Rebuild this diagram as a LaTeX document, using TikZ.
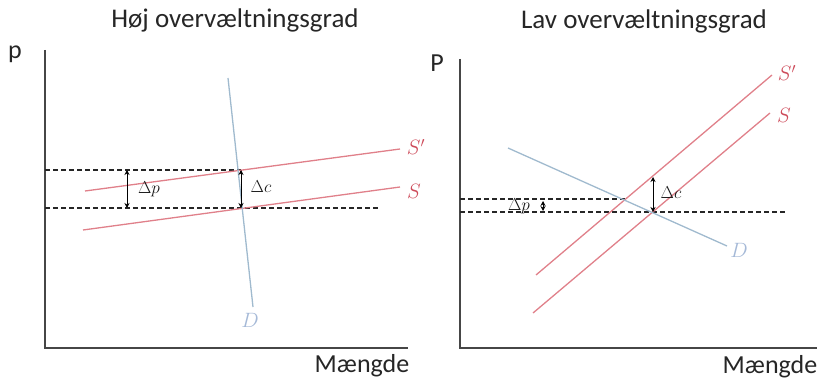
\documentclass[tikz,border=0pt]{standalone}
\usepackage{fontspec}
\setmainfont{Carlito}
\usetikzlibrary{arrows.meta}

\definecolor{supplyred}{RGB}{224,128,138}
\definecolor{supplylabel}{RGB}{205,75,90}
\definecolor{demandblue}{RGB}{160,186,206}
\definecolor{demandlabel}{RGB}{165,185,215}
\definecolor{axisgray}{RGB}{70,70,70}

\tikzstyle{axis}=[line width=2.4pt, axisgray]
\tikzstyle{supply}=[line width=1.3pt, supplyred]
\tikzstyle{demand}=[line width=1.3pt, demandblue]
\tikzstyle{price}=[line width=1.6pt, black!85, dash pattern=on 5pt off 3pt]
\tikzstyle{cost shift}=[line width=1pt, {Stealth[length=5pt,width=5pt]}-{Stealth[length=5pt,width=5pt]}]
\tikzstyle{heading}=[font=\fontsize{27}{31}\selectfont, text=black!85]
\tikzstyle{axis label}=[font=\fontsize{26}{30}\selectfont, text=black!85]
\tikzstyle{curve label}=[font=\fontsize{21}{24}\selectfont]
\tikzstyle{delta label}=[font=\fontsize{18}{21}\selectfont, text=black!90]

\begin{document}
\begin{tikzpicture}[x=1pt, y=-1pt]
	\useasboundingbox (0,0) rectangle (819,382);

	% Left panel: high pass-through
	\node[heading] (title high) at (235,20) {Høj overvæltningsgrad};
	\node[axis label] (p high) at (15,54) {p};
	\node[axis label] (q high) at (362,366) {Mængde};
	\draw[axis] (45,50) -- (45,348) -- (408,348);

	\draw[price] (45,170) -- (241,170);
	\draw[price] (45,208) -- (380,208);

	\draw[supply] (85,191) -- (400,149);
	\draw[supply] (83,230) -- (400,187);
	\draw[demand] (228,78) -- (253,307);

	\node[curve label, text=supplylabel] (s1 high) at (416,147) {$S'$};
	\node[curve label, text=supplylabel] (s0 high) at (414,191) {$S$};
	\node[curve label, text=demandlabel] (d high) at (250,320) {$D$};

	\draw[cost shift] (127,170) -- (127,208);
	\draw[cost shift] (241,170) -- (241,208);
	\node[delta label] (dp high) at (149,189) {$\Delta p$};
	\node[delta label] (dc high) at (261,187) {$\Delta c$};

	% Right panel: low pass-through
	\node[heading] (title low) at (644,21) {Lav overvæltningsgrad};
	\node[axis label] (p low) at (437,63) {P};
	\node[axis label] (q low) at (770,367) {Mængde};
	\draw[axis] (460,59) -- (460,348) -- (817,348);

	\draw[price] (460,199) -- (625,199);
	\draw[price] (460,212) -- (787,212);

	\draw[supply] (536,275) -- (772,75);
	\draw[supply] (533,313) -- (770,113);
	\draw[demand] (508,148) -- (727,246);

	\node[curve label, text=supplylabel] (s1 low) at (787,73) {$S'$};
	\node[curve label, text=supplylabel] (s0 low) at (784,115) {$S$};
	\node[curve label, text=demandlabel] (d low) at (739,250) {$D$};

	\draw[cost shift] (543,201) -- (543,211);
	\draw[cost shift] (653,177) -- (653,212);
	\node[delta label] (dp low) at (519,206) {$\Delta p$};
	\node[delta label] (dc low) at (671,193) {$\Delta c$};
\end{tikzpicture}
\end{document}
